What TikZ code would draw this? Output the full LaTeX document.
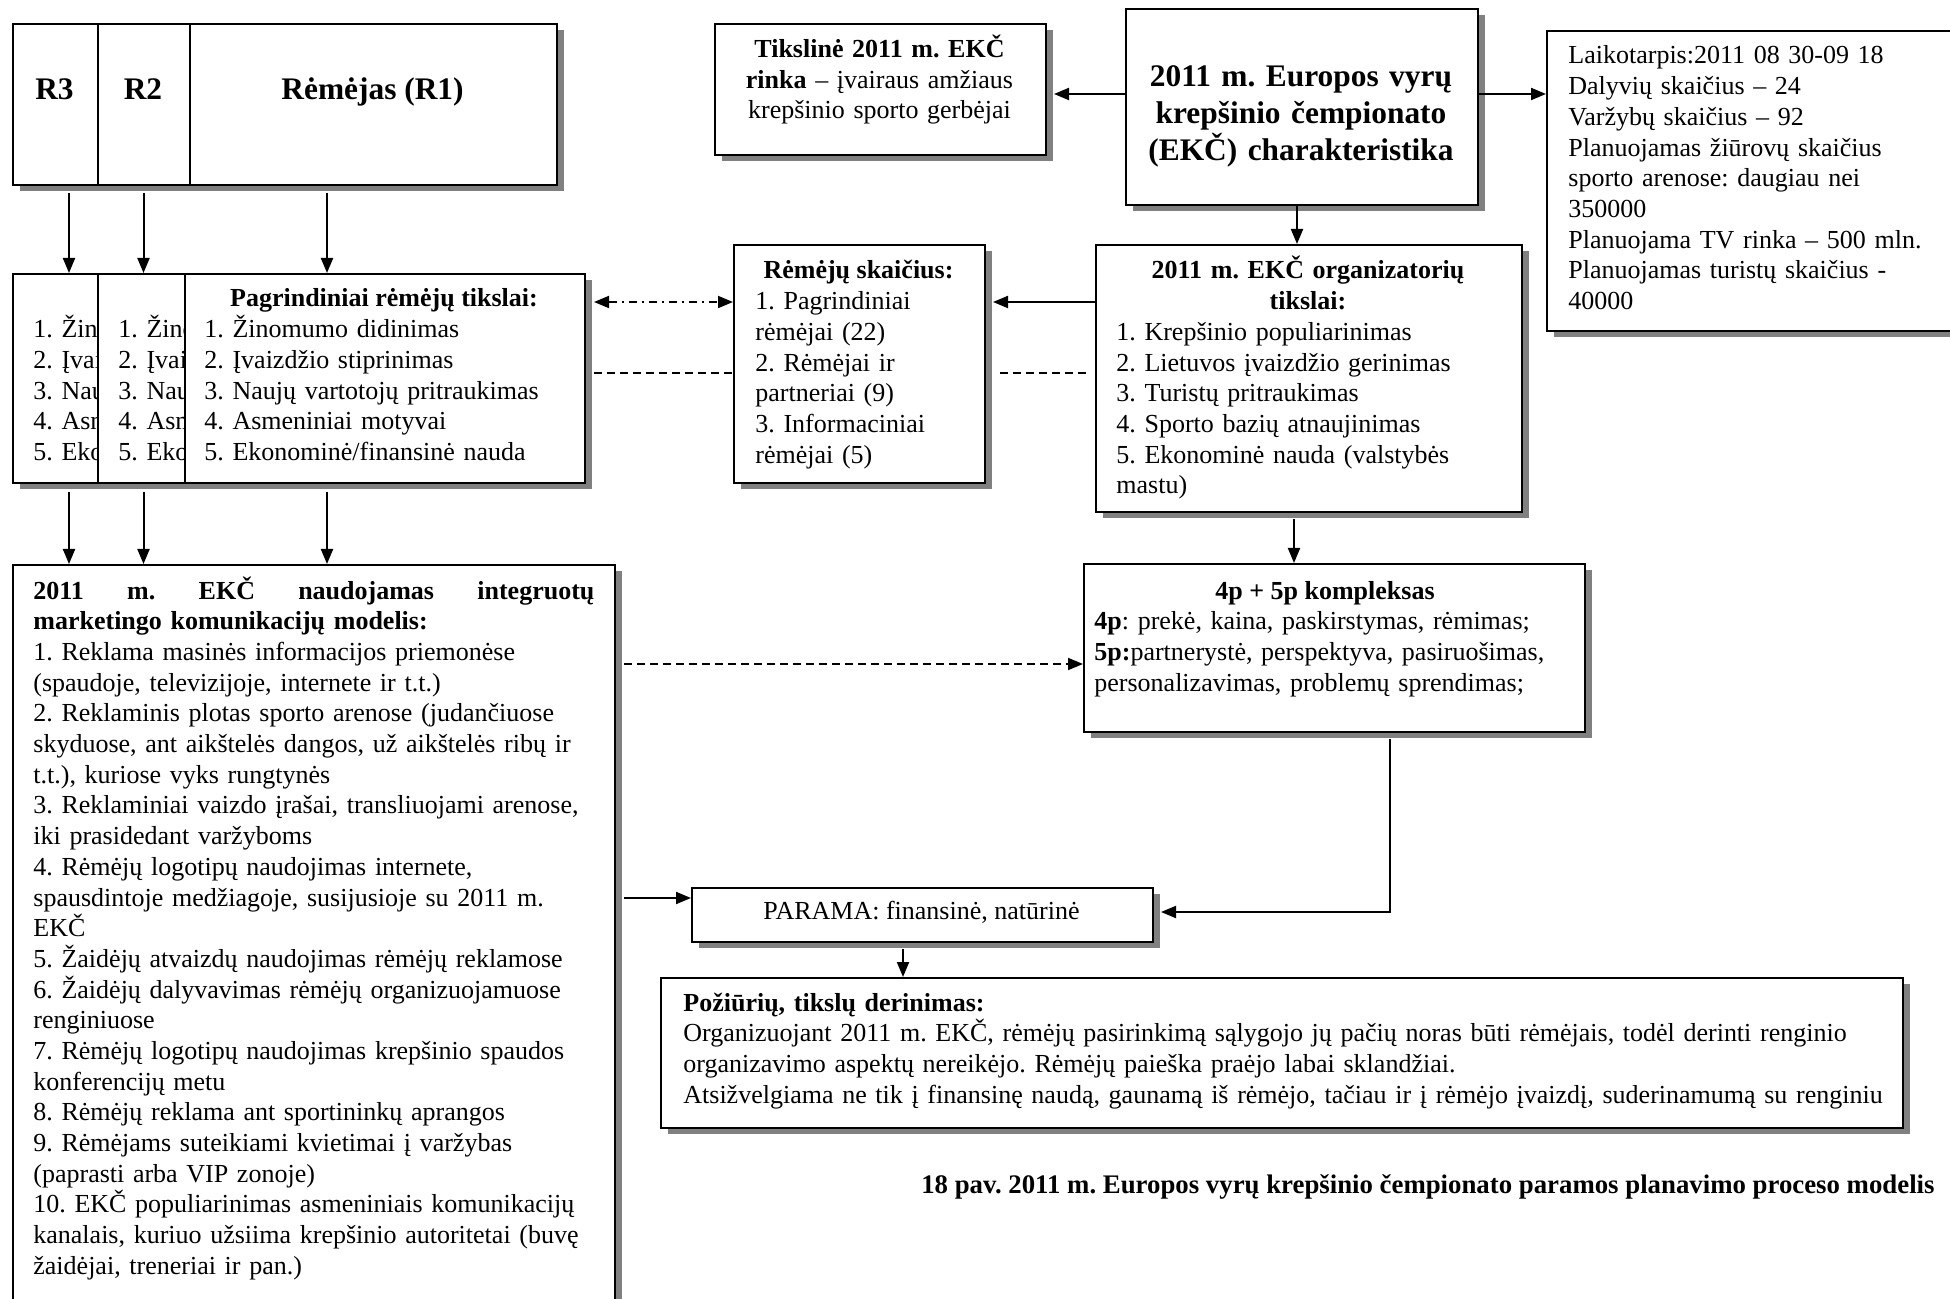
\documentclass[tikz,border=0pt]{standalone}
\usepackage{fontspec}
\setmainfont{Liberation Serif}
\usetikzlibrary{shadows,arrows.meta,calc}
\definecolor{shadowgray}{RGB}{128,128,128}
\begin{document}
\frenchspacing
\begin{tikzpicture}[x=0.5pt,y=-0.5pt,
  box/.style={draw, line width=1pt, fill=white, inner sep=0pt, anchor=north west,
    drop shadow={shadow xshift=3.5pt, shadow yshift=-3pt, fill=shadowgray, opacity=1}},
  txt/.style={inner sep=0pt, font=\fontsize{13}{15.35}\selectfont},
  txtB/.style={inner sep=0pt, font=\fontsize{13}{15.35}\selectfont\bfseries},
  txtL/.style={txt, anchor=base west, align=left, text width=#1},
  txtL/.default=300pt,
  txtC/.style={txt, anchor=base, align=center, text width=#1},
  one/.style={txt, anchor=base},
  oneB/.style={txtB, anchor=base},
  big/.style={inner sep=0pt, font=\fontsize{15.7}{18.3}\selectfont\bfseries},
  arr/.style={line width=1pt, -{Triangle[length=7.5pt,width=6pt]}},
  dsh/.style={line width=0.9pt, dash pattern=on 4pt off 2.5pt},
  dd/.style={line width=0.9pt, dash pattern=on 4pt off 2.5pt on 1pt off 2.5pt,
    {Triangle[length=7.5pt,width=6pt]}-{Triangle[length=7.5pt,width=6pt]}}]
\fill[white] (0,0) rectangle (1950,1299);
\useasboundingbox (0,0) rectangle (1950,1299);

% sponsors
\node[box, minimum width=272pt, minimum height=80.5pt] (sR3) at (12,23) {};
\node[box, minimum width=229.5pt, minimum height=80.5pt] (sR2) at (97,23) {};
\node[box, minimum width=183.5pt, minimum height=80.5pt] (sR1) at (189,23) {};
\node[big, anchor=base] (lR3) at (54.5,100) {R3};
\node[big, anchor=base] (lR2) at (143,100) {R2};
\node[big, anchor=base] (lR1) at (372.5,100) {Rėmėjas (R1)};

% sponsor goals (R3 and R2 boxes are partly hidden behind the next one)
\node[box, minimum width=286pt, minimum height=104.5pt] (gR3) at (12,273) {};
\begin{scope}
\clip (13,274) rectangle (96,481);
\node[txtL] (tR3) at (33,337.7) {1. Žino\\2. Įvaiz\\3. Nauj\\4. Asme\\5. Ekon};
\end{scope}
\node[box, minimum width=243.5pt, minimum height=104.5pt] (gR2) at (97,273) {};
\begin{scope}
\clip (98,274) rectangle (183,481);
\node[txtL] (tR2) at (118,337.7) {1. Žino\\2. Įvaiz\\3. Nauj\\4. Asme\\5. Ekon};
\end{scope}
\node[box, minimum width=200pt, minimum height=104.5pt] (gR1) at (184,273) {};
\node[oneB] (hR1) at (384,307) {Pagrindiniai rėmėjų tikslai:};
\node[txtL] (tR1) at (204,337.7) {1. Žinomumo didinimas\\2. Įvaizdžio stiprinimas\\3. Naujų vartotojų pritraukimas\\4. Asmeniniai motyvai\\5. Ekonominė/finansinė nauda};

% target market
\node[box, minimum width=165.5pt, minimum height=65.5pt] (tiks) at (714,23) {};
\node[txtC=165pt] (tiksT) at (879.5,57.5) {\textbf{Tikslinė 2011 m. EKČ}\\\textbf{rinka} – įvairaus amžiaus\\krepšinio sporto gerbėjai};

% main
\node[box, minimum width=176pt, minimum height=98pt] (main) at (1125,8) {};
\node[big, anchor=base, align=center, text width=176pt] (mainT) at (1301,87) {2011 m. Europos vyrų\\krepšinio čempionato\\(EKČ) charakteristika};

% info
\node[box, minimum width=209.5pt, minimum height=150pt] (info) at (1546,30) {};
\node[txtL] (infoT) at (1568,64) {Laikotarpis:2011 08 30-09 18\\Dalyvių skaičius – 24\\Varžybų skaičius – 92\\Planuojamas žiūrovų skaičius\\sporto arenose: daugiau nei\\350000\\Planuojama TV rinka – 500 mln.\\Planuojamas turistų skaičius -\\40000};

% number of sponsors
\node[box, minimum width=125.5pt, minimum height=119pt] (rem) at (733,244) {};
\node[oneB] (remH) at (858.5,279) {Rėmėjų skaičius:};
\node[txtL] (remT) at (755,309.7) {1. Pagrindiniai\\rėmėjai (22)\\2. Rėmėjai ir\\partneriai (9)\\3. Informaciniai\\rėmėjai (5)};

% organisers goals
\node[box, minimum width=213pt, minimum height=133.5pt] (org) at (1095,244) {};
\node[txtB, anchor=base, align=center, text width=210pt] (orgH) at (1308,279) {2011 m. EKČ organizatorių\\tikslai:};
\node[txtL] (orgT) at (1116,340.4) {1. Krepšinio populiarinimas\\2. Lietuvos įvaizdžio gerinimas\\3. Turistų pritraukimas\\4. Sporto bazių atnaujinimas\\5. Ekonominė nauda (valstybės\\mastu)};

% IMC model
\node[box, minimum width=301pt, minimum height=378pt] (model) at (12,564) {};
\node[txtL=290pt] (modelT) at (33,599) {\hbox to 280.5pt{\bfseries 2011\hfill m.\hfill EKČ\hfill naudojamas\hfill integruotų}\\\textbf{marketingo komunikacijų modelis:}\\1. Reklama masinės informacijos priemonėse\\(spaudoje, televizijoje, internete ir t.t.)\\2. Reklaminis plotas sporto arenose (judančiuose\\skyduose, ant aikštelės dangos, už aikštelės ribų ir\\t.t.), kuriose vyks rungtynės\\3. Reklaminiai vaizdo įrašai, transliuojami arenose,\\iki prasidedant varžyboms\\4. Rėmėjų logotipų naudojimas internete,\\spausdintoje medžiagoje, susijusioje su 2011 m.\\EKČ\\5. Žaidėjų atvaizdų naudojimas rėmėjų reklamose\\6. Žaidėjų dalyvavimas rėmėjų organizuojamuose\\renginiuose\\7. Rėmėjų logotipų naudojimas krepšinio spaudos\\konferencijų metu\\8. Rėmėjų reklama ant sportininkų aprangos\\9. Rėmėjams suteikiami kvietimai į varžybas\\(paprasti arba VIP zonoje)\\10. EKČ populiarinimas asmeniniais komunikacijų\\kanalais, kuriuo užsiima krepšinio autoritetai (buvę\\žaidėjai, treneriai ir pan.)};

% 4p + 5p
\node[box, minimum width=250.5pt, minimum height=84pt] (p4) at (1083,563) {};
\node[oneB] (p4H) at (1325,599) {4p + 5p kompleksas};
\node[txtL] (p4T) at (1094,629.7) {\textbf{4p}: prekė, kaina, paskirstymas, rėmimas;\\\textbf{5p:}partnerystė, perspektyva, pasiruošimas,\\personalizavimas, problemų sprendimas;};

% PARAMA
\node[box, minimum width=230.5pt, minimum height=27pt] (parama) at (691,887) {};
\node[one] (paramaT) at (921.5,919) {PARAMA: finansinė, natūrinė};

% attitudes
\node[box, minimum width=621pt, minimum height=75pt] (poz) at (660,977) {};
\node[txtL=615pt] (pozT) at (683,1011) {\textbf{Požiūrių, tikslų derinimas:}\\Organizuojant 2011 m. EKČ, rėmėjų pasirinkimą sąlygojo jų pačių noras būti rėmėjais, todėl derinti renginio\\organizavimo aspektų nereikėjo. Rėmėjų paieška praėjo labai sklandžiai.\\Atsižvelgiama ne tik į finansinę naudą, gaunamą iš rėmėjo, tačiau ir į rėmėjo įvaizdį, suderinamumą su renginiu};

% caption
\node[inner sep=0pt, anchor=base east, font=\fontsize{13.4}{15.35}\selectfont\bfseries] (cap) at (1935,1193) {18 pav. 2011 m. Europos vyrų krepšinio čempionato paramos planavimo proceso modelis};

% connectors
\coordinate (c1) at (69,0);
\coordinate (c2) at (143.5,0);
\coordinate (c3) at (327,0);
\draw[arr] ($(c1 |- sR3.south)+(0,7)$) -- (c1 |- gR3.north);
\draw[arr] ($(c2 |- sR2.south)+(0,7)$) -- (c2 |- gR2.north);
\draw[arr] ($(c3 |- sR1.south)+(0,7)$) -- (c3 |- gR1.north);
\draw[arr] ($(c1 |- gR3.south)+(0,8)$) -- (c1 |- model.north);
\draw[arr] ($(c2 |- gR2.south)+(0,8)$) -- (c2 |- model.north);
\draw[arr] ($(c3 |- gR1.south)+(0,8)$) -- (c3 |- model.north);

\coordinate (yA) at (0,94);
\draw[arr] (main.west |- yA) -- ($(tiks.east |- yA)+(7,0)$);
\draw[arr] (main.east |- yA) -- (info.west |- yA);
\coordinate (xB) at (1297,0);
\draw[arr] (xB |- main.south) -- (xB |- org.north);
\coordinate (yC) at (0,302);
\draw[arr] (org.west |- yC) -- ($(rem.east |- yC)+(7,0)$);
\draw[dd] ($(gR1.east |- yC)+(8,0)$) -- (rem.west |- yC);
\coordinate (yD) at (0,373);
\draw[dsh] ($(gR1.east |- yD)+(8,0)$) -- (rem.west |- yD);
\draw[dsh] ($(rem.east |- yD)+(14,0)$) -- ($(org.west |- yD)+(-9,0)$);
\coordinate (xE) at (1294,0);
\draw[arr] ($(xE |- org.south)+(0,6)$) -- (xE |- p4.north);
\coordinate (yF) at (0,664);
\draw[arr, dsh] ($(model.east |- yF)+(8,0)$) -- (p4.west |- yF);
\coordinate (xG) at (1390,0);
\coordinate (yG) at (0,912);
\draw[arr] ($(xG |- p4.south)+(0,6)$) -- (xG |- yG) -- ($(parama.east |- yG)+(7,0)$);
\coordinate (yH) at (0,898);
\draw[arr] ($(model.east |- yH)+(8,0)$) -- (parama.west |- yH);
\coordinate (xI) at (903,0);
\draw[arr] ($(xI |- parama.south)+(0,6)$) -- (xI |- poz.north);
\end{tikzpicture}
\end{document}
